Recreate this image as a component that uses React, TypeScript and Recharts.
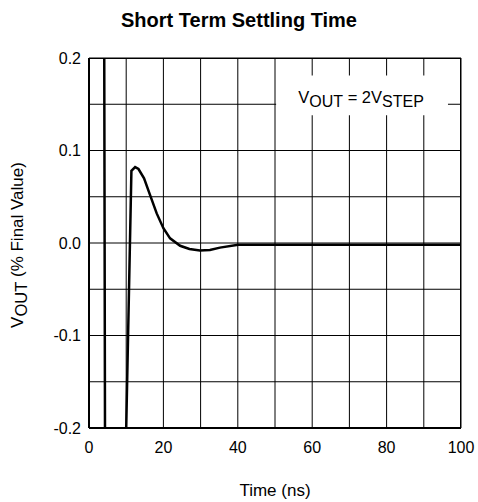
import React from 'react';
import {
  LineChart,
  Line,
  XAxis,
  YAxis,
  CartesianGrid,
  ReferenceArea,
} from 'recharts';

const times = [4.0, 4.4, 7.0, 9.5, 11.4, 12.4, 13.3, 14.8, 16.4, 18.2, 20.0, 21.8, 24.5, 27.0, 29.8, 32.5, 35.2, 40.1, 50, 60, 70, 80, 90, 100];
const values = [0.4, -0.4, -0.6, -0.3, 0.078, 0.082, 0.08, 0.07, 0.052, 0.032, 0.016, 0.005, -0.003, -0.0065, -0.008, -0.0075, -0.005, -0.002, -0.002, -0.002, -0.002, -0.002, -0.002, -0.002];

const xTicks = [0, 10, 20, 30, 40, 50, 60, 70, 80, 90, 100];
const xLabels = ['0', '', '20', '', '40', '', '60', '', '80', '', '100'];
const yTicks = [-0.2, -0.15, -0.1, -0.05, 0, 0.05, 0.1, 0.15, 0.2];
const yLabels = ['-0.2', '', '-0.1', '', '0.0', '', '0.1', '', '0.2'];

const data = times.map((t, i) => ({ t, v: values[i] }));

const FONT = 'Liberation Sans, Arial, sans-serif';

const AnnotationLabel = (props: any) => {
  const vb = props.viewBox || {};
  const cx = vb.x + vb.width / 2 - 1;
  const cy = vb.y + 27;
  return (
    <text x={cx} y={cy} textAnchor="middle" fontFamily={FONT} fontSize={16.5} fill="#000">
      <tspan>V</tspan>
      <tspan dy={4} fontSize={16}>OUT</tspan>
      <tspan dy={-4}> = 2V</tspan>
      <tspan dy={4} fontSize={16}>STEP</tspan>
    </text>
  );
};

export default function App() {
  return (
    <div style={{ position: 'absolute', left: 0, top: 0, width: 478, height: 502, background: '#fff' }}>
      <svg width={478} height={502} style={{ position: 'absolute', left: 0, top: 0 }}>
        <text x={239} y={27} textAnchor="middle" fontFamily={FONT} fontWeight="bold" fontSize={20} fill="#000">
          Short Term Settling Time
        </text>
        <text x={275} y={496} textAnchor="middle" fontFamily={FONT} fontSize={17} fill="#000">
          Time (ns)
        </text>
        <text transform="translate(23,245) rotate(-90)" textAnchor="middle" fontFamily={FONT} fontSize={17} fill="#000">
          <tspan>V</tspan>
          <tspan dy={4} fontSize={16.5}>OUT</tspan>
          <tspan dy={-4}> (% Final Value)</tspan>
        </text>
      </svg>
      <div style={{ position: 'absolute', left: 0, top: 0 }}>
        <LineChart width={478} height={502} data={data} margin={{ top: 58, right: 17, bottom: 0, left: 0 }}>
          <CartesianGrid stroke="#000" strokeWidth={1} />
          <XAxis
            dataKey="t"
            type="number"
            domain={[0, 100]}
            ticks={xTicks}
            tickFormatter={(v: number) => xLabels[xTicks.indexOf(v)] ?? ''}
            tickLine={false}
            axisLine={{ stroke: '#000', strokeWidth: 2 }}
            tickMargin={8}
            height={74}
            interval={0}
            tick={{ fill: '#000', fontSize: 16, fontFamily: FONT }}
            allowDataOverflow
          />
          <YAxis
            type="number"
            domain={[-0.2, 0.2]}
            ticks={yTicks}
            tickFormatter={(v: number) => {
              const i = yTicks.findIndex((y) => Math.abs(y - v) < 1e-9);
              return i >= 0 ? yLabels[i] : '';
            }}
            tickLine={false}
            axisLine={{ stroke: '#000', strokeWidth: 2 }}
            width={89}
            interval={0}
            tick={{ fill: '#000', fontSize: 16, fontFamily: FONT }}
            allowDataOverflow
          />
          <ReferenceArea
            x1={50.3}
            x2={96.5}
            y1={0.138}
            y2={0.181}
            fill="#fff"
            fillOpacity={1}
            stroke="none"
            label={<AnnotationLabel />}
            ifOverflow="hidden"
          />
          <ReferenceArea
            x1={0}
            x2={100}
            y1={-0.2}
            y2={0.2}
            fill="none"
            stroke="#000"
            strokeWidth={2}
            ifOverflow="hidden"
          />
          <Line
            dataKey="v"
            type="linear"
            stroke="#000"
            strokeWidth={2.5}
            dot={false}
            isAnimationActive={false}
          />
        </LineChart>
      </div>
    </div>
  );
}
